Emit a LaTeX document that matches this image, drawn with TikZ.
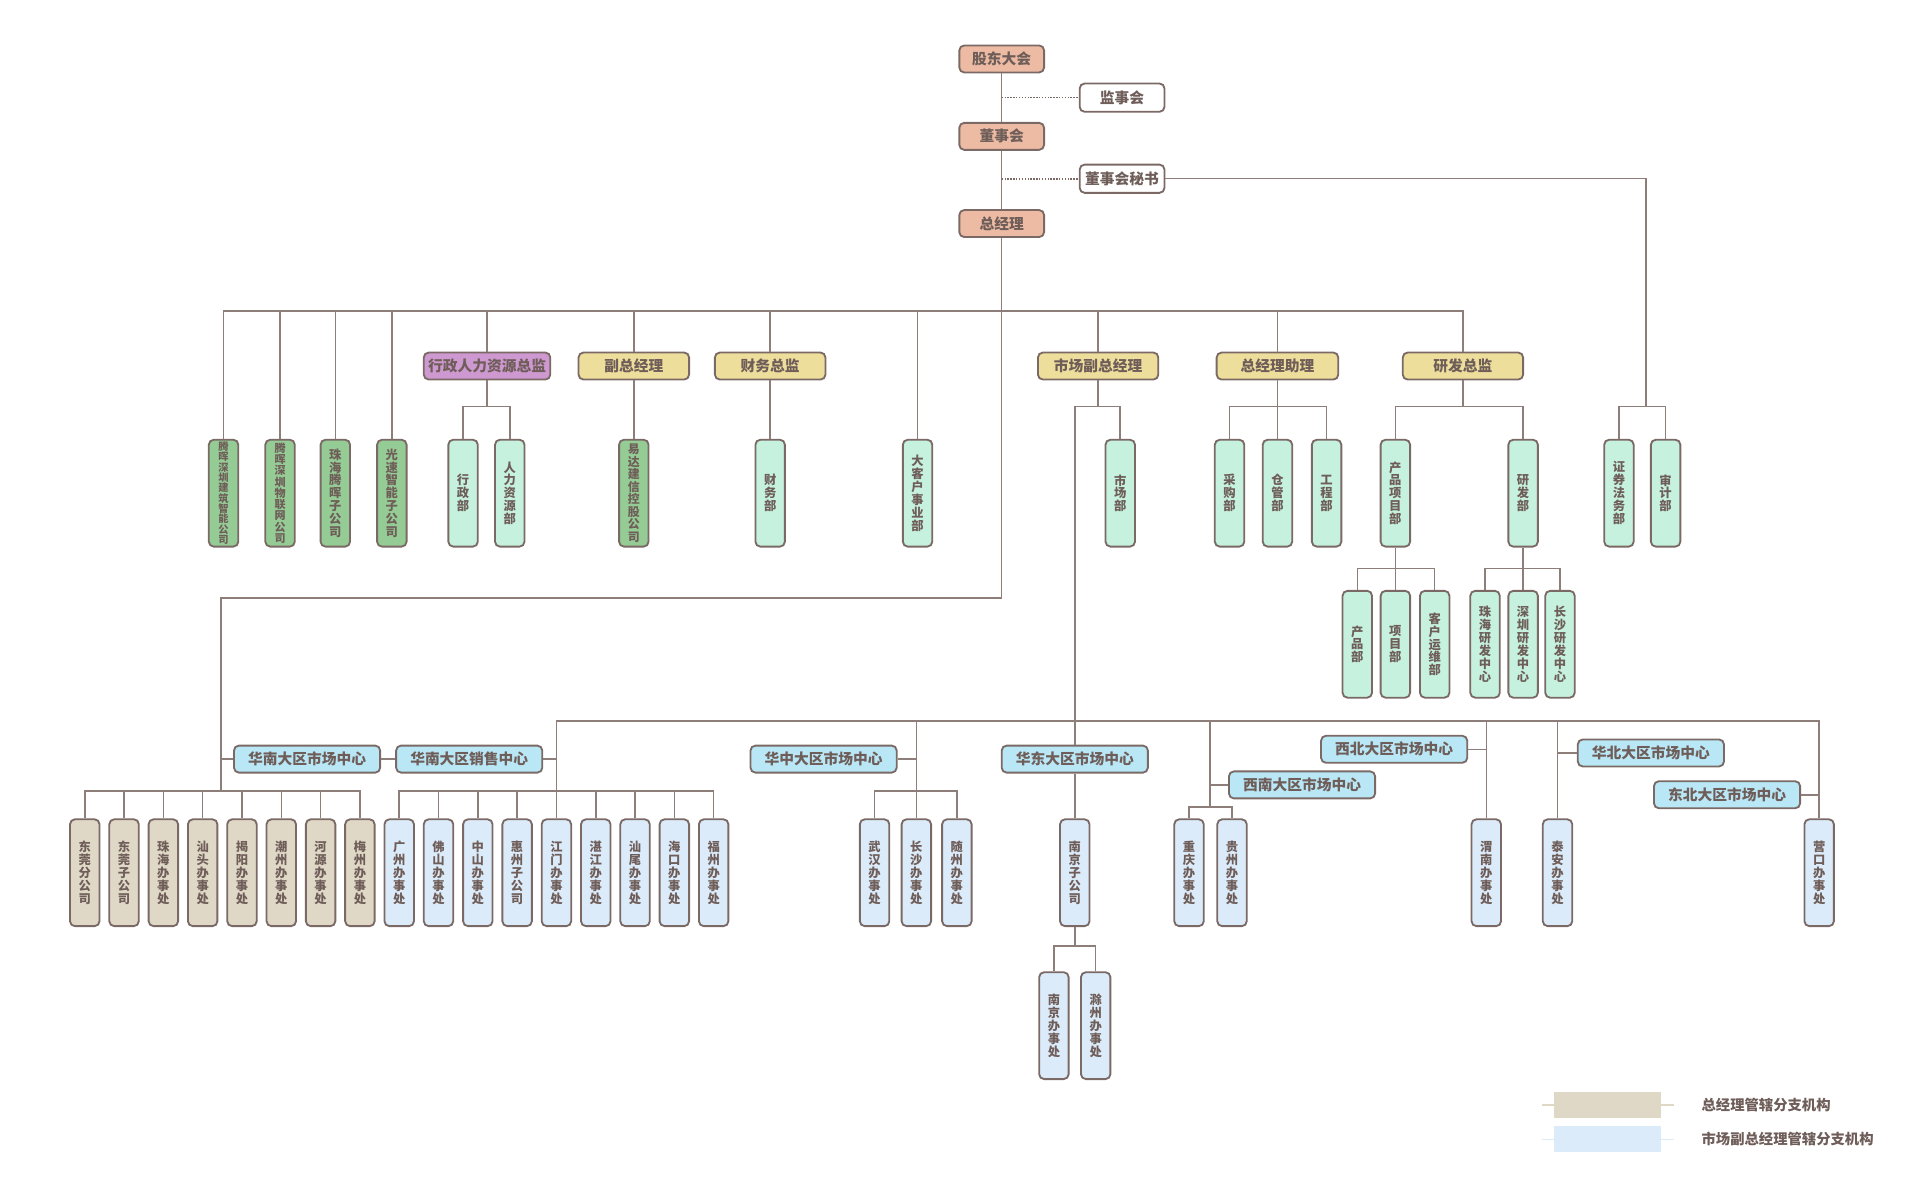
\documentclass[tikz,border=0pt]{standalone}
\usepackage{fontspec}
\setmainfont{Noto Sans CJK SC}
\makeatletter
\newcommand\vt[1]{\def\vtsep{}\@tfor\vtc:=#1\do{\vtsep\vtc\def\vtsep{\\}}}
\makeatother
\definecolor{lnc}{HTML}{8E7E79}
\definecolor{bdc}{HTML}{7A6964}
\definecolor{txc}{HTML}{6E5D58}
\definecolor{salmon}{HTML}{EDBBA4}
\definecolor{yel}{HTML}{EEDE9C}
\definecolor{purp}{HTML}{CE98D0}
\definecolor{grn}{HTML}{95CB95}
\definecolor{mint}{HTML}{C5F1DE}
\definecolor{regblue}{HTML}{B9E7F6}
\definecolor{lblue}{HTML}{DCEBFA}
\definecolor{tanc}{HTML}{E0D8C7}
\begin{document}
\begin{tikzpicture}[x=0.6pt,y=-0.6pt,
  ln/.style={draw=lnc, line width=0.75pt},
  dotln/.style={draw=bdc, line width=0.8pt, dash pattern=on 0.7pt off 0.7pt},
  bx/.style={draw=bdc, line width=0.9pt, rounded corners=2.4pt, inner sep=0pt, text=txc, font=\fontsize{7.2}{8}\selectfont\bfseries},
  topb/.style={bx, fill=salmon, minimum width=41.4pt, minimum height=13.2pt},
  wb/.style={bx, fill=white, minimum width=41.4pt, minimum height=13.8pt},
  lvl/.style={bx, minimum height=13.2pt},
  rg/.style={bx, fill=regblue, minimum width=71.4pt, minimum height=13.2pt},
  lf/.style={bx, minimum height=52.2pt, text width=14.4pt, align=center, font=\fontsize{6}{6.3}\selectfont\bfseries},
  lf10/.style={font=\fontsize{5}{5.05}\selectfont\bfseries},
  lf9/.style={font=\fontsize{5.4}{5.5}\selectfont\bfseries},
  lf8/.style={font=\fontsize{5.8}{6.1}\selectfont\bfseries},
  legb/.style={draw=none, inner sep=0pt, minimum width=52.2pt, minimum height=12.6pt},
  legt/.style={anchor=west, inner sep=0pt, text=txc, font=\fontsize{7}{8}\selectfont\bfseries}
]
\useasboundingbox (0,0) rectangle (1568,979);
\coordinate (B1) at (0,253);
\coordinate (B2) at (0,331);
\coordinate (B3) at (0,463);
\coordinate (B4) at (0,587);
\coordinate (B5) at (0,644);
\coordinate (B6) at (0,657);
\coordinate (B7) at (0,770);
\coordinate (Y487) at (0,487);
\coordinate (sjfork) at (1340,331);
\coordinate (tanfork) at (180,644);
\coordinate (xnx) at (985,587);

% top chain
\node[topb] (gd) at (815.5,48) {股东大会};
\node[wb] (jsh) at (913.5,79.5) {监事会};
\node[topb] (dsh) at (815.5,111) {董事会};
\node[wb] (msh) at (913.5,145.5) {董事会秘书};
\node[topb] (zjl) at (815.5,182) {总经理};

% level 2
\node[lvl, fill=purp, minimum width=61.8pt] (xzrl) at (396.5,298) {行政人力资源总监};
\node[lvl, fill=yel, minimum width=54pt] (fzjl) at (516,298) {副总经理};
\node[lvl, fill=yel, minimum width=54pt] (cwzj) at (627,298) {财务总监};
\node[lvl, fill=yel, minimum width=58.8pt] (scfz) at (894,298) {市场副总经理};
\node[lvl, fill=yel, minimum width=59.4pt] (zjlzl) at (1040,298) {总经理助理};
\node[lvl, fill=yel, minimum width=58.8pt] (yfzj) at (1191,298) {研发总监};

% row 1 leaves
\node[lf, lf10, fill=grn] (c1) at (182,401.5) {\vt{腾晖深圳建筑智能公司}};
\node[lf, lf9, fill=grn] (c2) at (228,401.5) {\vt{腾晖深圳物联网公司}};
\node[lf, fill=grn] (c3) at (273,401.5) {\vt{珠海腾晖子公司}};
\node[lf, fill=grn] (c4) at (319,401.5) {\vt{光速智能子公司}};
\node[lf, fill=mint] (xzb) at (377,401.5) {\vt{行政部}};
\node[lf, fill=mint] (rlb) at (415,401.5) {\vt{人力资源部}};
\node[lf, lf8, fill=grn] (ydjx) at (516,401.5) {\vt{易达建信控股公司}};
\node[lf, fill=mint] (cwb) at (627,401.5) {\vt{财务部}};
\node[lf, fill=mint] (dkh) at (747,401.5) {\vt{大客户事业部}};
\node[lf, fill=mint] (scb) at (912,401.5) {\vt{市场部}};
\node[lf, fill=mint] (cgb) at (1001,401.5) {\vt{采购部}};
\node[lf, fill=mint] (cgb2) at (1040,401.5) {\vt{仓管部}};
\node[lf, fill=mint] (gcb) at (1080,401.5) {\vt{工程部}};
\node[lf, fill=mint] (cpxm) at (1136,401.5) {\vt{产品项目部}};
\node[lf, fill=mint] (yfb) at (1240,401.5) {\vt{研发部}};
\node[lf, fill=mint] (zqfw) at (1318,401.5) {\vt{证券法务部}};
\node[lf, fill=mint] (sjb) at (1356,401.5) {\vt{审计部}};

% row 2 leaves
\node[lf, fill=mint] (cpb) at (1105,524.5) {\vt{产品部}};
\node[lf, fill=mint] (xmb) at (1136,524.5) {\vt{项目部}};
\node[lf, fill=mint] (khyw) at (1168,524.5) {\vt{客户运维部}};
\node[lf, fill=mint] (zhyf) at (1209,524.5) {\vt{珠海研发中心}};
\node[lf, fill=mint] (szyf) at (1240,524.5) {\vt{深圳研发中心}};
\node[lf, fill=mint] (csyf) at (1270,524.5) {\vt{长沙研发中心}};

% region centres
\node[rg] (hnsc) at (250,618) {华南大区市场中心};
\node[rg] (hnxs) at (382,618) {华南大区销售中心};
\node[rg] (hzsc) at (670.5,618) {华中大区市场中心};
\node[rg] (hdsc) at (875,618) {华东大区市场中心};
\node[rg] (xnsc) at (1060,639) {西南大区市场中心};
\node[rg] (xbsc) at (1135,610) {西北大区市场中心};
\node[rg] (hbsc) at (1344,613) {华北大区市场中心};
\node[rg] (dbsc) at (1406,647) {东北大区市场中心};

% row 3 leaves
\node[lf, fill=tanc] (t1) at (69,710.5) {\vt{东莞分公司}};
\node[lf, fill=tanc] (t2) at (101,710.5) {\vt{东莞子公司}};
\node[lf, fill=tanc] (t3) at (133,710.5) {\vt{珠海办事处}};
\node[lf, fill=tanc] (t4) at (165,710.5) {\vt{汕头办事处}};
\node[lf, fill=tanc] (t5) at (197,710.5) {\vt{揭阳办事处}};
\node[lf, fill=tanc] (t6) at (229,710.5) {\vt{潮州办事处}};
\node[lf, fill=tanc] (t7) at (261,710.5) {\vt{河源办事处}};
\node[lf, fill=tanc] (t8) at (293,710.5) {\vt{梅州办事处}};
\node[lf, fill=lblue] (b1) at (325,710.5) {\vt{广州办事处}};
\node[lf, fill=lblue] (b2) at (357,710.5) {\vt{佛山办事处}};
\node[lf, fill=lblue] (b3) at (389,710.5) {\vt{中山办事处}};
\node[lf, fill=lblue] (b4) at (421,710.5) {\vt{惠州子公司}};
\node[lf, fill=lblue] (b5) at (453,710.5) {\vt{江门办事处}};
\node[lf, fill=lblue] (b6) at (485,710.5) {\vt{湛江办事处}};
\node[lf, fill=lblue] (b7) at (517,710.5) {\vt{汕尾办事处}};
\node[lf, fill=lblue] (b8) at (549,710.5) {\vt{海口办事处}};
\node[lf, fill=lblue] (b9) at (581,710.5) {\vt{福州办事处}};
\node[lf, fill=lblue] (wh) at (712,710.5) {\vt{武汉办事处}};
\node[lf, fill=lblue] (cs) at (746,710.5) {\vt{长沙办事处}};
\node[lf, fill=lblue] (suiz) at (779,710.5) {\vt{随州办事处}};
\node[lf, fill=lblue] (njzgs) at (875,710.5) {\vt{南京子公司}};
\node[lf, fill=lblue] (cq) at (968,710.5) {\vt{重庆办事处}};
\node[lf, fill=lblue] (gz) at (1003,710.5) {\vt{贵州办事处}};
\node[lf, fill=lblue] (wn) at (1210,710.5) {\vt{渭南办事处}};
\node[lf, fill=lblue] (ta) at (1268,710.5) {\vt{泰安办事处}};
\node[lf, fill=lblue] (yk) at (1481,710.5) {\vt{营口办事处}};
\node[lf, fill=lblue] (njb) at (858,835) {\vt{南京办事处}};
\node[lf, fill=lblue] (czb) at (892,835) {\vt{滁州办事处}};

% ---- connectors ----
\draw[ln] (gd.south) -- (dsh.north);
\draw[ln] (dsh.south) -- (zjl.north);
\draw[dotln] (gd.south |- jsh.west) -- (jsh.west);
\draw[dotln] (gd.south |- msh.west) -- (msh.west);
\draw[ln] (msh.east) -| (sjfork);
\draw[ln] (zqfw.north) |- (sjfork) -| (sjb.north);

% trunk to 总经理 branches
\draw[ln] (zjl.south) -- (zjl.south |- Y487) -| (tanfork);
\draw[ln] (c1.north) |- (yfzj.north |- B1) -- (yfzj.north);
\foreach \n in {c2,c3,c4,xzrl,fzjl,cwzj,dkh,scfz,zjlzl}
  \draw[ln] (\n.north) -- (\n.north |- B1);

% level 2 forks
\draw[ln] (xzrl.south) -- (xzrl.south |- B2);
\draw[ln] (xzb.north) |- (rlb.north |- B2) -- (rlb.north);
\draw[ln] (fzjl.south) -- (ydjx.north);
\draw[ln] (cwzj.south) -- (cwb.north);
\draw[ln] (scfz.south) -- (scfz.south |- B2);
\draw[ln] (scb.north) |- (hdsc.north |- B2) -- (hdsc.north);
\draw[ln] (zjlzl.south) -- (cgb2.north);
\draw[ln] (cgb.north) |- (gcb.north |- B2) -- (gcb.north);
\draw[ln] (yfzj.south) -- (yfzj.south |- B2);
\draw[ln] (cpxm.north) |- (yfb.north |- B2) -- (yfb.north);

% row 2 forks
\draw[ln] (cpxm.south) -- (xmb.north);
\draw[ln] (cpb.north) |- (khyw.north |- B3) -- (khyw.north);
\draw[ln] (yfb.south) -- (szyf.north);
\draw[ln] (zhyf.north) |- (csyf.north |- B3) -- (csyf.north);

% 华南
\draw[ln] (t1.north) |- (t8.north |- B5) -- (t8.north);
\foreach \n in {t2,t3,t4,t5,t6,t7}
  \draw[ln] (\n.north) -- (\n.north |- B5);
\draw[ln] (tanfork |- hnsc.west) -- (hnsc.west);
\draw[ln] (hnsc.east) -- (hnxs.west);
\draw[ln] (hnxs.east) -- (hnxs.east -| b5.north);
\draw[ln] (b1.north) |- (b9.north |- B5) -- (b9.north);
\foreach \n in {b2,b3,b4,b5,b6,b7,b8}
  \draw[ln] (\n.north) -- (\n.north |- B5);
\draw[ln] (b5.north |- B4) -- (b5.north |- B5);

% market bus
\draw[ln] (b5.north |- B4) -- (yk.north |- B4) -- (yk.north);

% 华中
\draw[ln] (cs.north |- B4) -- (cs.north);
\draw[ln] (hzsc.east) -- (hzsc.east -| cs.north);
\draw[ln] (wh.north) |- (suiz.north |- B5) -- (suiz.north);

% 华东
\draw[ln] (hdsc.south) -- (njzgs.north);
\draw[ln] (njzgs.south) -- (njzgs.south |- B7);
\draw[ln] (njb.north) |- (czb.north |- B7) -- (czb.north);

% 西南
\draw[ln] (xnx) -- (xnx |- B6);
\draw[ln] (cq.north) |- (gz.north |- B6) -- (gz.north);
\draw[ln] (xnx |- xnsc.west) -- (xnsc.west);

% 西北 华北 东北
\draw[ln] (wn.north |- B4) -- (wn.north);
\draw[ln] (xbsc.east) -- (xbsc.east -| wn.north);
\draw[ln] (ta.north |- B4) -- (ta.north);
\draw[ln] (ta.north |- hbsc.west) -- (hbsc.west);
\draw[ln] (dbsc.east) -- (dbsc.east -| yk.north);

% legend
\draw[tanc, line width=0.6pt] (1255,899.5) -- (1363,899.5);
\draw[lblue, line width=0.6pt] (1255,927.5) -- (1363,927.5);
\node[legb, fill=tanc] (lg1) at (1308.5,899.5) {};
\node[legb, fill=lblue] (lg2) at (1308.5,927.5) {};
\node[legt] (lt1) at (1385,899.5) {总经理管辖分支机构};
\node[legt] (lt2) at (1385,927.5) {市场副总经理管辖分支机构};
\end{tikzpicture}
\end{document}
